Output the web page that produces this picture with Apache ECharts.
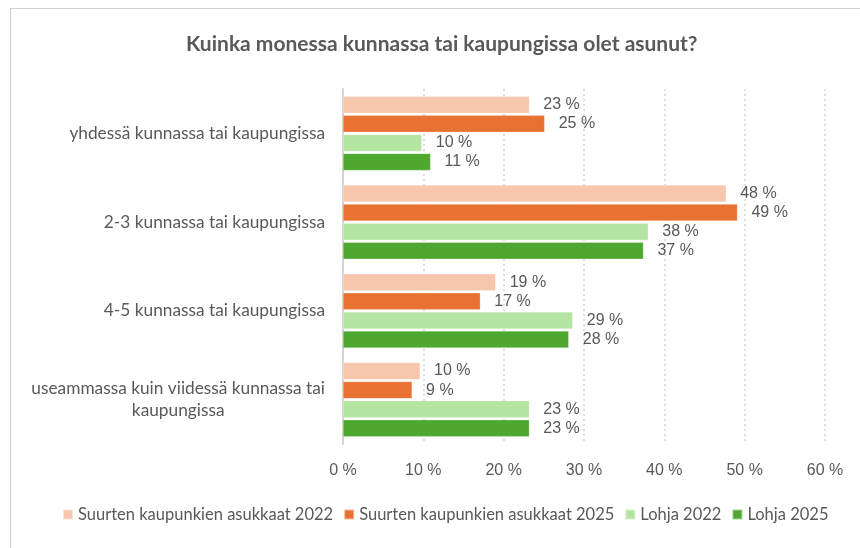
<!DOCTYPE html>
<html><head><meta charset="utf-8">
<script src="https://cdn.jsdelivr.net/npm/echarts@6/dist/echarts.min.js"></script>
<style>
html,body{margin:0;padding:0;background:#fff;}
#frame{position:absolute;left:10px;top:8px;width:860px;height:560px;border-left:1px solid #d0d0d0;border-top:1px solid #d0d0d0;}
#c{position:absolute;left:0;top:0;width:860px;height:548px;}
</style></head>
<body>
<div id="frame"></div>
<div id="c"></div>
<script>
const titleText = 'Kuinka monessa kunnassa tai kaupungissa olet asunut?';
const categories = [
  'yhdessä kunnassa tai kaupungissa',
  '2-3 kunnassa tai kaupungissa',
  '4-5 kunnassa tai kaupungissa',
  'useammassa kuin viidessä kunnassa tai\nkaupungissa'
];
const seriesNames = ['Suurten kaupunkien asukkaat 2022', 'Suurten kaupunkien asukkaat 2025', 'Lohja 2022', 'Lohja 2025'];
const suuret2022 = [23.2, 47.7, 19.0, 9.6];
const suuret2025 = [25.1, 49.1, 17.1, 8.6];
const lohja2022 = [9.8, 38.0, 28.6, 23.2];
const lohja2025 = [10.9, 37.4, 28.1, 23.2];
const xTicks = [0, 10, 20, 30, 40, 50, 60];

const colors = ['#F6C6AD', '#E97132', '#B4E5A2', '#4EA72E'];
const values = [suuret2022, suuret2025, lohja2022, lohja2025];
const gray = '#595959';
const txtFont = 'Lato';
const numFont = 'Liberation Sans';

const chart = echarts.init(document.getElementById('c'), null, {renderer: 'canvas'});
chart.setOption({
  animation: false,
  color: colors,
  title: {
    text: titleText, left: 181, top: 29,
    textStyle: {fontFamily: txtFont, fontWeight: 'bold', fontSize: 21, color: gray}
  },
  legend: {
    data: seriesNames, bottom: 20, left: 57, icon: 'rect',
    itemWidth: 10, itemHeight: 10, itemGap: 10,
    textStyle: {fontFamily: txtFont, fontSize: 16.5, color: gray}
  },
  grid: {left: 343, right: 35, top: 89, bottom: 104, containLabel: false},
  xAxis: {
    type: 'value', min: xTicks[0], max: xTicks[xTicks.length - 1], interval: 10,
    axisLine: {show: false}, axisTick: {show: false},
    axisLabel: {formatter: '{value} %', fontFamily: numFont, fontSize: 16, color: gray, margin: 19},
    splitLine: {show: true, lineStyle: {color: '#d4d4d4', width: 1.5, type: [2, 3]}}
  },
  yAxis: {
    type: 'category', data: categories, inverse: true,
    axisLine: {show: true, lineStyle: {color: '#d4d4d4', width: 2}},
    axisTick: {show: false},
    axisLabel: {
      margin: 18,
      formatter: v => v.split('\n').map(s => '{c|' + s + '}').join('\n'),
      rich: {c: {fontFamily: txtFont, fontSize: 17.3, color: gray, align: 'center', lineHeight: 22}}
    }
  },
  series: values.map((arr, i) => ({
    name: seriesNames[i], type: 'bar', data: arr,
    barWidth: 17, barGap: '12%', barCategoryGap: '17%',
    itemStyle: {color: colors[i], borderColor: 'rgba(255,255,255,0.5)', borderWidth: 0.5},
    label: {
      show: true, position: 'right', distance: 14,
      formatter: p => Math.round(p.value) + ' %',
      fontFamily: numFont, fontSize: 16, color: gray
    }
  }))
});
</script>
</body></html>
